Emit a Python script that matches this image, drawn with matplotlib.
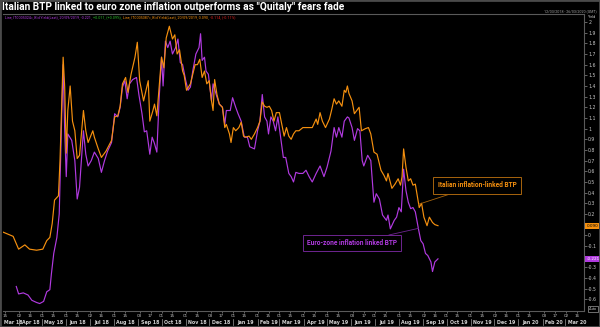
import matplotlib
matplotlib.use("Agg")
import matplotlib.pyplot as plt
import matplotlib.dates as mdates
from matplotlib.patches import Rectangle
import numpy as np
import pandas as pd

TITLE = 'Italian BTP linked to euro zone inflation outperforms as "Quitaly" fears fade'

# Italian inflation-linked BTP, bid yield (%)
italy_dates = [
    "2018-03-12", "2018-03-25", "2018-04-01", "2018-04-09", "2018-04-15", "2018-04-24",
    "2018-05-02", "2018-05-07", "2018-05-11", "2018-05-14", "2018-05-17", "2018-05-22",
    "2018-05-24", "2018-05-28", "2018-05-30", "2018-06-01", "2018-06-03", "2018-06-06",
    "2018-06-09", "2018-06-12", "2018-06-15", "2018-06-18", "2018-06-23", "2018-06-26",
    "2018-06-29", "2018-07-05", "2018-07-07", "2018-07-12", "2018-07-16", "2018-07-22",
    "2018-07-29", "2018-08-02", "2018-08-06", "2018-08-09", "2018-08-12", "2018-08-16",
    "2018-08-19", "2018-08-23", "2018-08-28", "2018-08-31", "2018-09-03", "2018-09-08",
    "2018-09-14", "2018-09-16", "2018-09-20", "2018-09-22", "2018-09-25", "2018-09-28",
    "2018-10-01", "2018-10-04", "2018-10-07", "2018-10-11", "2018-10-15", "2018-10-18",
    "2018-10-21", "2018-10-24", "2018-10-28", "2018-10-30", "2018-11-02", "2018-11-07",
    "2018-11-11", "2018-11-13", "2018-11-16", "2018-11-19", "2018-11-22", "2018-11-25",
    "2018-11-28", "2018-12-01", "2018-12-04", "2018-12-06", "2018-12-08", "2018-12-11",
    "2018-12-14", "2018-12-18", "2018-12-21", "2018-12-23", "2018-12-27", "2018-12-29",
    "2019-01-01", "2019-01-04", "2019-01-08", "2019-01-11", "2019-01-14", "2019-01-17",
    "2019-01-21", "2019-01-24", "2019-01-28", "2019-02-01", "2019-02-04", "2019-02-07",
    "2019-02-10", "2019-02-13", "2019-02-16", "2019-02-19", "2019-02-22", "2019-02-25",
    "2019-03-01", "2019-03-04", "2019-03-07", "2019-03-10", "2019-03-13", "2019-03-16",
    "2019-03-19", "2019-03-22", "2019-03-26", "2019-03-31", "2019-04-04", "2019-04-08",
    "2019-04-12", "2019-04-17", "2019-04-19", "2019-04-22", "2019-04-25", "2019-04-29",
    "2019-05-04", "2019-05-07", "2019-05-10", "2019-05-13", "2019-05-16", "2019-05-20",
    "2019-05-23", "2019-05-25", "2019-05-27", "2019-05-29", "2019-06-02", "2019-06-05",
    "2019-06-08", "2019-06-11", "2019-06-14", "2019-06-19", "2019-06-23", "2019-06-26",
    "2019-06-30", "2019-07-04", "2019-07-09", "2019-07-13", "2019-07-16", "2019-07-18",
    "2019-07-23", "2019-07-27", "2019-07-31", "2019-08-03", "2019-08-05", "2019-08-07",
    "2019-08-10", "2019-08-13", "2019-08-16", "2019-08-19", "2019-08-22", "2019-08-24",
    "2019-08-27", "2019-08-30", "2019-09-02", "2019-09-06", "2019-09-09", "2019-09-13",
    "2019-09-16", "2019-09-20",
]
italy_yield = [
    0.03, -0.01, -0.13, -0.09, -0.13, -0.14,
    -0.13, -0.05, -0.02, 0.11, 0.33, 0.37,
    0.70, 1.67, 1.39, 0.77, 1.17, 1.40,
    1.07, 0.98, 0.72, 0.75, 1.17, 0.98,
    0.87, 0.98, 0.92, 0.81, 0.73, 0.79,
    0.89, 1.11, 1.12, 1.21, 1.42, 1.48,
    1.34, 1.51, 1.67, 1.81, 1.45, 1.26,
    1.45, 1.07, 1.17, 1.23, 1.12, 1.39,
    1.67, 1.57, 1.85, 1.96, 1.84, 1.88,
    1.70, 1.74, 1.54, 1.50, 1.36, 1.42,
    1.54, 1.60, 1.60, 1.65, 1.48, 1.54,
    1.42, 1.45, 1.26, 1.17, 1.46, 1.32,
    1.23, 1.20, 1.01, 1.04, 0.95, 0.87,
    1.01, 0.98, 1.01, 1.06, 0.93, 0.92,
    0.93, 0.90, 0.95, 1.01, 1.07, 1.25,
    1.21, 1.20, 1.21, 1.17, 1.07, 1.15,
    1.15, 1.04, 0.93, 1.01, 0.93, 0.90,
    0.95, 0.98, 0.98, 1.01, 1.01, 1.01,
    1.01, 1.09, 1.04, 1.15, 1.07, 1.01,
    1.09, 1.18, 1.28, 1.23, 1.26, 1.21,
    1.36, 1.34, 1.40, 1.33, 1.26, 1.14,
    1.17, 1.20, 0.98, 1.00, 1.01, 0.95,
    0.78, 0.76, 0.61, 0.56, 0.51, 0.58,
    0.44, 0.48, 0.53, 0.47, 0.55, 0.81,
    0.64, 0.51, 0.53, 0.47, 0.48, 0.39,
    0.26, 0.30, 0.17, 0.09, 0.17, 0.12,
    0.10, 0.09,
]

# Euro-zone inflation-linked BTP, bid yield (%)
euro_dates = [
    "2018-03-29", "2018-04-01", "2018-04-07", "2018-04-13", "2018-04-18", "2018-04-24",
    "2018-04-28", "2018-05-03", "2018-05-07", "2018-05-11", "2018-05-13", "2018-05-16",
    "2018-05-20", "2018-05-23", "2018-05-26", "2018-05-28", "2018-05-30", "2018-06-01",
    "2018-06-03", "2018-06-08", "2018-06-12", "2018-06-15", "2018-06-18", "2018-06-23",
    "2018-06-26", "2018-06-29", "2018-07-03", "2018-07-07", "2018-07-12", "2018-07-16",
    "2018-07-20", "2018-07-24", "2018-07-29", "2018-08-02", "2018-08-06", "2018-08-09",
    "2018-08-12", "2018-08-15", "2018-08-18", "2018-08-21", "2018-08-25", "2018-08-30",
    "2018-09-02", "2018-09-06", "2018-09-09", "2018-09-12", "2018-09-16", "2018-09-19",
    "2018-09-22", "2018-09-25", "2018-09-28", "2018-10-01", "2018-10-03", "2018-10-06",
    "2018-10-09", "2018-10-12", "2018-10-15", "2018-10-19", "2018-10-22", "2018-10-25",
    "2018-10-28", "2018-11-01", "2018-11-04", "2018-11-07", "2018-11-10", "2018-11-14",
    "2018-11-18", "2018-11-20", "2018-11-22", "2018-11-25", "2018-11-27", "2018-11-30",
    "2018-12-04", "2018-12-06", "2018-12-10", "2018-12-14", "2018-12-18", "2018-12-21",
    "2018-12-23", "2018-12-28", "2018-12-31", "2019-01-04", "2019-01-07", "2019-01-11",
    "2019-01-15", "2019-01-19", "2019-01-22", "2019-01-28", "2019-02-01", "2019-02-04",
    "2019-02-07", "2019-02-10", "2019-02-13", "2019-02-15", "2019-02-18", "2019-02-21",
    "2019-02-24", "2019-02-27", "2019-03-02", "2019-03-06", "2019-03-09", "2019-03-13",
    "2019-03-16", "2019-03-19", "2019-03-22", "2019-03-26", "2019-03-31", "2019-04-04",
    "2019-04-08", "2019-04-12", "2019-04-17", "2019-04-22", "2019-04-27", "2019-05-01",
    "2019-05-06", "2019-05-10", "2019-05-13", "2019-05-16", "2019-05-20", "2019-05-23",
    "2019-05-27", "2019-05-29", "2019-06-02", "2019-06-05", "2019-06-09", "2019-06-12",
    "2019-06-15", "2019-06-17", "2019-06-22", "2019-06-26", "2019-06-30", "2019-07-03",
    "2019-07-07", "2019-07-11", "2019-07-16", "2019-07-18", "2019-07-21", "2019-07-26",
    "2019-07-29", "2019-08-01", "2019-08-04", "2019-08-07", "2019-08-10", "2019-08-13",
    "2019-08-16", "2019-08-19", "2019-08-22", "2019-08-26", "2019-08-29", "2019-09-01",
    "2019-09-04", "2019-09-07", "2019-09-11", "2019-09-13", "2019-09-16", "2019-09-20",
]
euro_yield = [
    -0.48, -0.55, -0.54, -0.56, -0.61, -0.63,
    -0.64, -0.62, -0.53, -0.51, -0.36, -0.17,
    -0.02, 0.20, 1.07, 1.60, 0.98, 0.55,
    0.95, 0.89, 0.70, 0.34, 0.45, 0.98,
    0.76, 0.65, 0.70, 0.78, 0.72, 0.59,
    0.70, 0.79, 0.87, 1.14, 1.11, 1.20,
    1.39, 1.45, 1.28, 1.42, 1.46, 1.48,
    1.32, 1.14, 0.97, 0.98, 0.76, 0.92,
    0.86, 0.78, 1.29, 1.67, 1.40, 1.82,
    1.76, 1.82, 1.70, 1.76, 1.84, 1.62,
    1.60, 1.45, 1.36, 1.39, 1.54, 1.70,
    1.76, 1.89, 1.64, 1.67, 1.54, 1.51,
    1.26, 1.42, 1.32, 1.23, 1.20, 1.04,
    1.17, 1.17, 1.29, 1.20, 1.14, 1.07,
    0.92, 0.92, 0.83, 0.81, 0.98, 1.07,
    1.32, 1.11, 1.07, 0.95, 1.11, 1.07,
    0.98, 1.11, 0.95, 0.73, 0.73, 0.58,
    0.55, 0.50, 0.59, 0.58, 0.58, 0.61,
    0.55, 0.50, 0.58, 0.65, 0.55, 0.64,
    0.79, 1.01, 0.92, 1.01, 0.92, 1.07,
    1.11, 1.10, 1.01, 0.89, 1.00, 0.98,
    0.70, 0.65, 0.75, 0.70, 0.31, 0.39,
    0.34, 0.19, 0.14, 0.19, 0.06, 0.14,
    0.17, 0.26, 0.22, 0.62, 0.42, 0.31,
    0.25, 0.26, 0.22, 0.06, -0.05, -0.08,
    -0.17, -0.19, -0.25, -0.34, -0.25, -0.221,
]

y_tick_values = [-0.6, -0.5, -0.4, -0.3, -0.2, -0.1, 0, 0.1, 0.2, 0.3, 0.4, 0.5, 0.6,
                 0.7, 0.8, 0.9, 1, 1.1, 1.2, 1.3, 1.4, 1.5, 1.6, 1.7, 1.8, 1.9, 2]
# labels hidden behind the last-value tags in the original
hidden_y_labels = [0.1, -0.2]
month_starts = pd.date_range("2018-03-01", "2020-03-01", freq="MS")
month_labels = ["Mar 18", "Apr 18", "May 18", "Jun 18", "Jul 18", "Aug 18", "Sep 18",
                "Oct 18", "Nov 18", "Dec 18", "Jan 19", "Feb 19", "Mar 19", "Apr 19",
                "May 19", "Jun 19", "Jul 19", "Aug 19", "Sep 19", "Oct 19", "Nov 19",
                "Dec 19", "Jan 20", "Feb 20", "Mar 20"]
header_parts = [
    ("Line, IT0005324=, Bid Yield(Last), 20/09/2019, -0.221, ", "#B13AE0"),
    ("+0.011, (+0.09%), ", "#2BC02B"),
    ("Line, IT0005387=, Bid Yield(Last), 20/09/2019, 0.090, ", "#F5900F"),
    ("-0.114, (-0.11%)", "#E02020"),
]

ORANGE = "#F5900F"
PURPLE = "#B13AE0"
GREY = "#8A8A8A"
FONT = ["Roboto", "DejaVu Sans"]

italy = pd.Series(italy_yield, index=pd.to_datetime(italy_dates))
euro = pd.Series(euro_yield, index=pd.to_datetime(euro_dates))
x_start, x_end = pd.Timestamp("2018-03-12"), pd.Timestamp("2020-03-25")

fig = plt.figure(figsize=(6, 3.27), dpi=100, facecolor="black")
ax = fig.add_axes([3 / 600, 16 / 327, 581 / 600, 297 / 327])
ax.set_facecolor("black")

ax.plot(italy.index, italy.values, color=ORANGE, linewidth=0.85, zorder=3)
ax.plot(euro.index, euro.values, color=PURPLE, linewidth=0.85, zorder=2)

# right-hand yield axis
ax.yaxis.tick_right()
ax.set_yticks(y_tick_values)
ax.set_yticklabels(["" if t in hidden_y_labels else f"{t:g}" for t in y_tick_values])
ax.tick_params(axis="y", colors=GREY, labelcolor="#C8C8C8", labelsize=3.3,
               length=2, width=0.5, pad=1)
ax.spines["left"].set_visible(False)
for side in ["right", "bottom", "top"]:
    ax.spines[side].set_color("#5A5A5A")
    ax.spines[side].set_linewidth(0.8)

# bottom date axis: day numbers, month names underneath
day_ticks = []
for m in month_starts:
    for d in (1, 15):
        day = pd.Timestamp(np.busday_offset(np.datetime64(m.replace(day=d).date()), 0,
                                            roll="forward"))
        if x_start <= day <= x_end:
            day_ticks.append(day)
ax.set_xticks(day_ticks)
ax.xaxis.set_major_formatter(mdates.DateFormatter("%d"))
ax.tick_params(axis="x", colors=GREY, labelcolor="#BEBEBE", labelsize=3,
               length=1.5, width=0.5, pad=0.8)
ax.set_xlim(x_start, x_end)
ax.set_ylim(-0.71, 2.075)

xt = ax.get_xaxis_transform()
for start, label in zip(month_starts, month_labels):
    if start < x_start:
        ax.text(x_start + pd.Timedelta(days=1), -0.038, label, transform=xt, ha="left",
                va="center", fontsize=3.4, color="#D0D0D0", fontweight="bold",
                clip_on=False)
        continue
    ax.text(start + pd.Timedelta(days=15), -0.038, label, transform=xt, ha="center",
            va="center", fontsize=3.4, color="#D0D0D0", fontweight="bold", clip_on=False)
    ax.plot([start, start], [-0.028, -0.048], transform=xt, color="#9A9A9A",
            linewidth=0.5, clip_on=False)
ax.set_xlim(x_start, x_end)

# last-value tags on the axis
yt = ax.get_yaxis_transform()
ax.text(1.004, italy.values[-1], "0.090", transform=yt, ha="left", va="center",
        fontsize=3, color="black", clip_on=False, zorder=5,
        bbox=dict(boxstyle="square,pad=0.25", facecolor=ORANGE, edgecolor="none"))
ax.text(1.004, euro.values[-1], "-0.221", transform=yt, ha="left", va="center",
        fontsize=3, color="white", clip_on=False, zorder=5,
        bbox=dict(boxstyle="square,pad=0.25", facecolor=PURPLE, edgecolor="none"))

# callouts
ax.annotate("Italian inflation-linked BTP", xy=(pd.Timestamp("2019-08-26"), 0.29),
            xytext=(pd.Timestamp("2019-11-09"), 0.47), ha="center", va="center",
            fontsize=4.7, fontweight="bold", color=ORANGE, family=FONT,
            bbox=dict(boxstyle="square,pad=0.7", facecolor="black", edgecolor="#A8650E",
                      linewidth=0.7),
            arrowprops=dict(arrowstyle="-", color="#A8650E", linewidth=0.6,
                            shrinkA=0, shrinkB=0))
ax.annotate("Euro-zone inflation linked BTP", xy=(pd.Timestamp("2019-08-26"), 0.065),
            xytext=(pd.Timestamp("2019-06-02"), -0.075), ha="center", va="center",
            fontsize=4.7, fontweight="bold", color=PURPLE, family=FONT,
            bbox=dict(boxstyle="square,pad=0.6", facecolor="black", edgecolor="#6E2590",
                      linewidth=0.7),
            arrowprops=dict(arrowstyle="-", color="#6E2590", linewidth=0.6,
                            shrinkA=0, shrinkB=0))

# title and header strip
fig.text(2 / 600, 1 - 7.5 / 327, TITLE, ha="left", va="center", color="white",
         fontsize=7.3, fontweight="bold", family=FONT)

renderer = fig.canvas.get_renderer()
x_px = 5
for txt, col in header_parts:
    t = fig.text(x_px / 600, 1 - 17.5 / 327, txt, ha="left", va="center", color=col,
                 fontsize=2.6, family=FONT)
    x_px += t.get_window_extent(renderer).width + 0.5

fig.text(597 / 600, 1 - 11 / 327, "12/03/2018 - 26/03/2020 (GMT)", ha="right",
         va="center", color="#A0A0A0", fontsize=2.6, family=FONT)
fig.text(588 / 600, 1 - 17.5 / 327, "Yield", ha="left", va="center", color="#C8C8C8",
         fontsize=2.8, family=FONT)
fig.text(593 / 600, 1 - 309 / 327, "Auto", ha="center", va="center", color="#C8C8C8",
         fontsize=2.8, family=FONT,
         bbox=dict(boxstyle="square,pad=0.2", facecolor="black", edgecolor="#9A9A9A",
                   linewidth=0.5))

fig.add_artist(Rectangle((0, 0), 1, 1, transform=fig.transFigure, fill=False,
                         edgecolor="#4A4A4A", linewidth=2))

fig.savefig("out.png", dpi=100, facecolor="black")
plt.close(fig)
